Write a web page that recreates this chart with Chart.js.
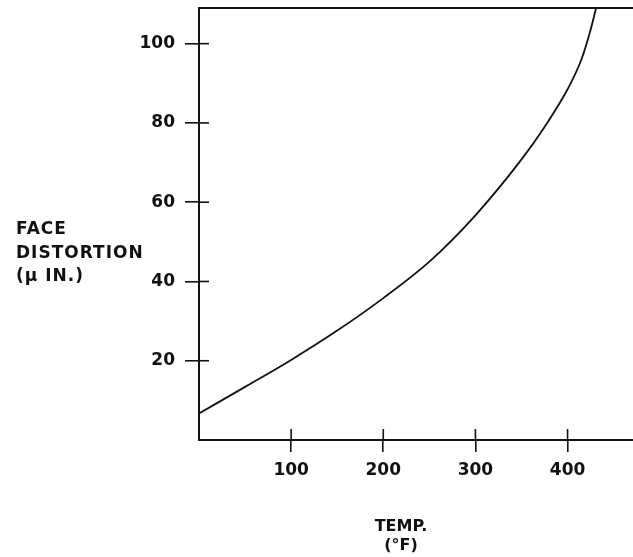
<!DOCTYPE html>
<html>
<head>
<meta charset="utf-8">
<script src="https://cdn.jsdelivr.net/npm/chart.js@4/dist/chart.umd.min.js"></script>
<style>
  html, body { margin: 0; padding: 0; background: #fff; }
  #wrap { width: 633px; height: 557px; position: relative; }
</style>
</head>
<body>
<div id="wrap"><canvas id="myChart"></canvas></div>
<script>
// curve: temperature (°F) vs face distortion (µ in.)
const temps = [0, 50, 100, 150, 200, 250, 300, 350, 375, 400, 415, 425, 432];
const distortion = [6.7, 13.4, 20.2, 27.6, 35.8, 45, 56.7, 70.8, 79, 88.5, 96, 103.5, 110];

const xTicks = [100, 200, 300, 400];
const yTicks = [20, 40, 60, 80, 100];

const yTitle = ['FACE', 'DISTORTION', '(\u03BC IN.)'];
const xTitle = ['TEMP.', '(\u00B0F)'];

const ink = '#111';
const font = '"DejaVu Sans", sans-serif';

// ticks that cross the axis + top border + axis titles
const extras = {
  id: 'extras',
  afterDraw(chart) {
    const c = chart.ctx;
    const a = chart.chartArea;
    const x = chart.scales.x, y = chart.scales.y;
    c.save();
    c.strokeStyle = ink;
    c.lineWidth = 2;
    c.beginPath();
    c.moveTo(a.left - 1, a.top);
    c.lineTo(a.right, a.top);
    c.stroke();
    c.lineWidth = 1.6;
    yTicks.forEach(v => {
      const p = y.getPixelForValue(v);
      c.beginPath(); c.moveTo(a.left, p); c.lineTo(a.left + 10, p); c.stroke();
    });
    xTicks.forEach(v => {
      const p = x.getPixelForValue(v);
      c.beginPath(); c.moveTo(p, a.bottom); c.lineTo(p, a.bottom - 11); c.stroke();
    });
    c.fillStyle = ink;
    c.font = 'bold 17px ' + font;
    c.textAlign = 'left';
    c.textBaseline = 'alphabetic';
    c.letterSpacing = '1px';
    yTitle.forEach((t, i) => c.fillText(t, 16, 234 + i * 23.5));
    c.textAlign = 'center';
    c.font = 'bold 16px ' + font;
    c.letterSpacing = '0px';
    c.fillText(xTitle[0], 401, 531);
    c.fillText(xTitle[1], 401, 550);
    c.restore();
  }
};

new Chart(document.getElementById('myChart'), {
  type: 'line',
  data: {
    datasets: [{
      label: 'Face distortion',
      data: temps.map((t, i) => ({ x: t, y: distortion[i] })),
      borderColor: ink,
      borderWidth: 1.8,
      pointRadius: 0,
      cubicInterpolationMode: 'monotone',
      fill: false
    }]
  },
  options: {
    responsive: true,
    maintainAspectRatio: false,
    animation: false,
    layout: { padding: { top: 8, right: 0, left: 0, bottom: 0 } },
    plugins: { legend: { display: false }, tooltip: { enabled: false } },
    scales: {
      x: {
        type: 'linear',
        min: 0,
        max: 471,
        afterFit: s => { s.height = 117; s.paddingLeft = 0; s.paddingRight = 0; },
        afterBuildTicks: s => { s.ticks = xTicks.map(v => ({ value: v })); },
        border: { display: true, color: ink, width: 2 },
        grid: { drawOnChartArea: false, drawTicks: true, tickLength: 12, color: ink, lineWidth: 1.6 },
        ticks: { color: ink, font: { family: font, size: 17, weight: 'bold' }, padding: 8, maxRotation: 0 }
      },
      y: {
        min: 0,
        max: 109,
        afterFit: s => { s.width = 199; s.paddingTop = 0; s.paddingBottom = 0; },
        afterBuildTicks: s => { s.ticks = yTicks.map(v => ({ value: v })); },
        border: { display: true, color: ink, width: 2 },
        grid: { drawOnChartArea: false, drawTicks: true, tickLength: 14, color: ink, lineWidth: 1.6 },
        ticks: { color: ink, font: { family: font, size: 17, weight: 'bold' }, padding: 10 }
      }
    }
  },
  plugins: [extras]
});
</script>
</body>
</html>
